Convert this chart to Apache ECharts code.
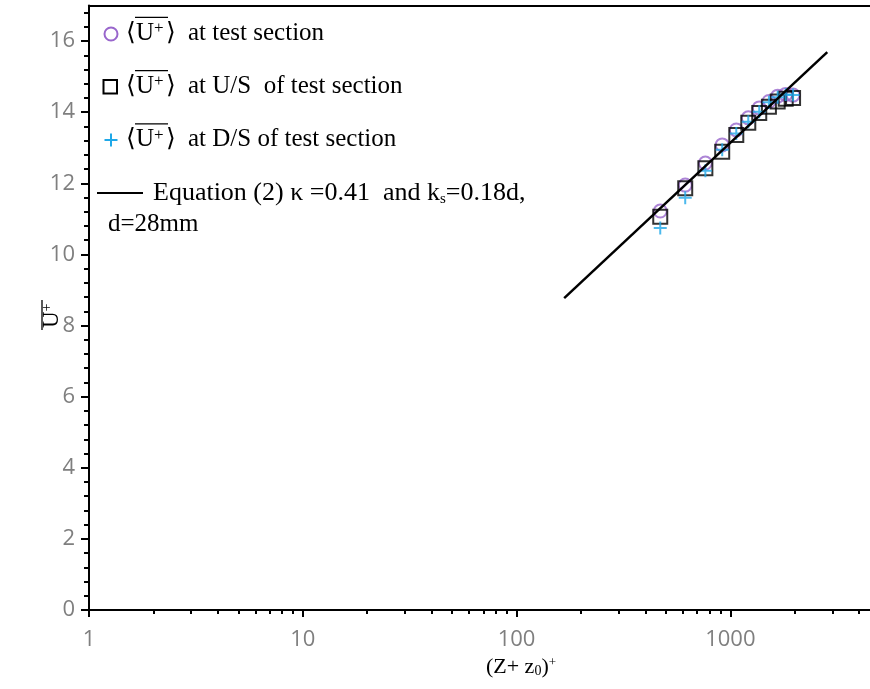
<!DOCTYPE html>
<html><head><meta charset="utf-8">
<script src="https://cdn.jsdelivr.net/npm/echarts@6/dist/echarts.min.js"></script>
<style>html,body{margin:0;padding:0;background:#fff}#c{width:870px;height:689px}</style>
</head><body><div id="c"></div>
<script>
// ---- data ----
const zPlus = [470, 615, 764, 916, 1066, 1213, 1365, 1515, 1665, 1815, 1965];
const uTest = [11.22, 11.95, 12.57, 13.08, 13.50, 13.84, 14.12, 14.30, 14.45, 14.50, 14.48];
const uUS   = [11.06, 11.86, 12.42, 12.89, 13.36, 13.70, 13.98, 14.15, 14.30, 14.38, 14.40];
const uDS   = [10.74, 11.59, 12.35, 12.94, 13.40, 13.73, 14.01, 14.28, 14.42, 14.50, 14.48];
const eqX = [167, 2840];
const eqU = [8.77, 15.69];
const xMajorTicks = [1, 10, 100, 1000];
const xMinorTicks = [2,3,4,5,6,7,8,9,20,30,40,50,60,70,80,90,200,300,400,500,600,700,800,900,2000,3000,4000];
const yMajorTicks = [0, 2, 4, 6, 8, 10, 12, 14, 16];
const yMinorTicks = [];
for (let i = 0; i <= 42; i++) { const v = +(i * 0.4).toFixed(1); if (v % 2 !== 0 && v <= 17) yMinorTicks.push(v); }
const legendNames = ['at test section', 'at U/S  of test section', 'at D/S of test section'];
const eqLabel = ['Equation (2) κ =0.41  and k', 's', '=0.18d,', 'd=28mm'];

const zip = (xs, ys) => xs.map((x, i) => [x, ys[i]]);
const SERIF = '"Liberation Serif", "Times New Roman", serif';
const purple = '#9966CC', cyan = '#1FA8E8';

const chart = echarts.init(document.getElementById('c'), null, {renderer: 'canvas'});

const X_MIN = 1, X_MAX = 4500, Y_MIN = 0, Y_MAX = 17;
const grid = {left: 89, right: 0, top: 5.5, bottom: 79, outerBoundsMode: 'none', containLabel: false};

// legend drawn as graphic
const graphic = [];
const rowBase = [41.7, 95, 148.3];
rowBase.forEach((b, i) => {
  const mid = b - 8.4;
  graphic.push({type: 'text', x: 126, y: mid, style: {text: '⟨', font: '25px ' + SERIF, fill: '#000', verticalAlign: 'middle'}});
  graphic.push({type: 'text', x: 136, y: mid, style: {text: 'U', font: '25px ' + SERIF, fill: '#000', verticalAlign: 'middle'}});
  graphic.push({type: 'text', x: 154, y: mid - 4.8, style: {text: '+', font: '17px ' + SERIF, fill: '#000', verticalAlign: 'middle'}});
  graphic.push({type: 'text', x: 166, y: mid, style: {text: '⟩', font: '25px ' + SERIF, fill: '#000', verticalAlign: 'middle'}});
  graphic.push({type: 'line', shape: {x1: 135, y1: b - 24.4, x2: 168, y2: b - 24.4}, style: {stroke: '#000', lineWidth: 1.3}});
  graphic.push({type: 'text', x: 188, y: mid, style: {text: legendNames[i], font: '25px ' + SERIF, fill: '#000', verticalAlign: 'middle'}});
});
graphic.push({type: 'circle', shape: {cx: 111, cy: 34, r: 6.5}, style: {fill: 'none', stroke: purple, lineWidth: 2}});
graphic.push({type: 'rect', shape: {x: 103.5, y: 80, width: 13.5, height: 13.5}, style: {fill: 'none', stroke: '#000', lineWidth: 2}});
graphic.push({type: 'line', shape: {x1: 104.5, y1: 140, x2: 117.5, y2: 140}, style: {stroke: cyan, lineWidth: 2}});
graphic.push({type: 'line', shape: {x1: 111, y1: 133.5, x2: 111, y2: 146.5}, style: {stroke: cyan, lineWidth: 2}});
graphic.push({type: 'line', shape: {x1: 97, y1: 193, x2: 143, y2: 193}, style: {stroke: '#000', lineWidth: 2}});
graphic.push({type: 'text', x: 153, y: 201.7 - 8.6, style: {
  text: '{n|' + eqLabel[0] + '}{s|' + eqLabel[1] + '}{n|' + eqLabel[2] + '}',
  verticalAlign: 'middle', fill: '#000', font: '26px ' + SERIF,
  rich: {n: {font: '26px ' + SERIF, lineHeight: 26, fill: '#000'}, s: {font: '15px ' + SERIF, lineHeight: 15, verticalAlign: 'bottom', fill: '#000'}}
}});
graphic.push({type: 'text', x: 108, y: 233 - 8.4, style: {text: eqLabel[3], font: '25px ' + SERIF, fill: '#000', verticalAlign: 'middle'}});
// overline over y-axis title
graphic.push({type: 'line', shape: {x1: 42, y1: 300, x2: 42, y2: 330}, style: {stroke: '#000', lineWidth: 1.3}});

const plainNum = v => String(Math.round(v));

const option = {
  animation: false,
  backgroundColor: '#fff',
  grid: grid,
  xAxis: [
    {
      type: 'log', logBase: 10, min: X_MIN, max: X_MAX, position: 'bottom',
      name: '(Z+ z{b|0}){p|+}', nameLocation: 'middle', nameGap: 46, nameMoveOverlap: false,
      nameTextStyle: {fontFamily: SERIF, fontSize: 22, color: '#000', padding: [0, 0, 0, 83],
        rich: {b: {fontFamily: SERIF, fontSize: 14, lineHeight: 14, verticalAlign: 'bottom', color: '#000'},
               p: {fontFamily: SERIF, fontSize: 13, lineHeight: 13, verticalAlign: 'top', color: '#000'}}},
      axisLine: {show: true, lineStyle: {color: '#000', width: 2}},
      axisTick: {show: true, inside: false, length: 7, lineStyle: {color: '#000', width: 2}, customValues: xMajorTicks},
      axisLabel: {show: true, customValues: xMajorTicks, formatter: plainNum, margin: 19, color: '#7f7f7f', fontFamily: '"Open Sans", sans-serif', fontSize: 22},
      splitLine: {show: false}, minorTick: {show: false}, minorSplitLine: {show: false}
    },
    {
      type: 'log', logBase: 10, min: X_MIN, max: X_MAX, position: 'bottom',
      axisLine: {show: false},
      axisTick: {show: true, inside: false, length: 4, lineStyle: {color: '#000', width: 2}, customValues: xMinorTicks},
      axisLabel: {show: false}, splitLine: {show: false}
    },
    {
      type: 'log', logBase: 10, min: X_MIN, max: X_MAX, position: 'top',
      axisLine: {show: true, lineStyle: {color: '#000', width: 2}},
      axisTick: {show: false}, axisLabel: {show: false}, splitLine: {show: false}
    }
  ],
  yAxis: [
    {
      type: 'value', min: Y_MIN, max: Y_MAX, position: 'left',
      name: '{u|U}{p|+}', nameLocation: 'middle', nameRotate: 90, nameGap: 26, nameMoveOverlap: false,
      nameTextStyle: {fontFamily: SERIF, fontSize: 23, color: '#000', padding: [0, 16, 0, 0],
        rich: {u: {fontFamily: SERIF, fontSize: 23, lineHeight: 23, color: '#000'},
               p: {fontFamily: SERIF, fontSize: 14, lineHeight: 14, verticalAlign: 'top', color: '#000'}}},
      axisLine: {show: true, lineStyle: {color: '#000', width: 2}},
      axisTick: {show: true, inside: false, length: 8, lineStyle: {color: '#000', width: 2}, customValues: yMajorTicks},
      axisLabel: {show: true, customValues: yMajorTicks, margin: 14, color: '#7f7f7f', fontFamily: '"Open Sans", sans-serif', fontSize: 22},
      splitLine: {show: false}, minorTick: {show: false}
    },
    {
      type: 'value', min: Y_MIN, max: Y_MAX, position: 'left',
      axisLine: {show: false},
      axisTick: {show: true, inside: false, length: 5, lineStyle: {color: '#000', width: 2}, customValues: yMinorTicks},
      axisLabel: {show: false}, splitLine: {show: false}
    }
  ],
  graphic: graphic,
  series: [
    {type: 'scatter', name: 'test section', data: zip(zPlus, uTest), symbol: 'circle', symbolSize: 13,
     itemStyle: {color: 'rgba(0,0,0,0)', borderColor: purple, borderWidth: 2}},
    {type: 'scatter', name: 'U/S of test section', data: zip(zPlus, uUS), symbol: 'rect', symbolSize: 14,
     itemStyle: {color: 'rgba(0,0,0,0)', borderColor: '#000', borderWidth: 2}},
    {type: 'scatter', name: 'D/S of test section', data: zip(zPlus, uDS), symbol: 'path://M0,6L12,6M6,0L6,12', symbolSize: 13,
     itemStyle: {color: 'rgba(0,0,0,0)', borderColor: cyan, borderWidth: 2}},
    {type: 'line', name: 'Equation (2)', data: zip(eqX, eqU), symbol: 'none', lineStyle: {color: '#000', width: 2.5}}
  ]
};
chart.setOption(option);
</script></body></html>
